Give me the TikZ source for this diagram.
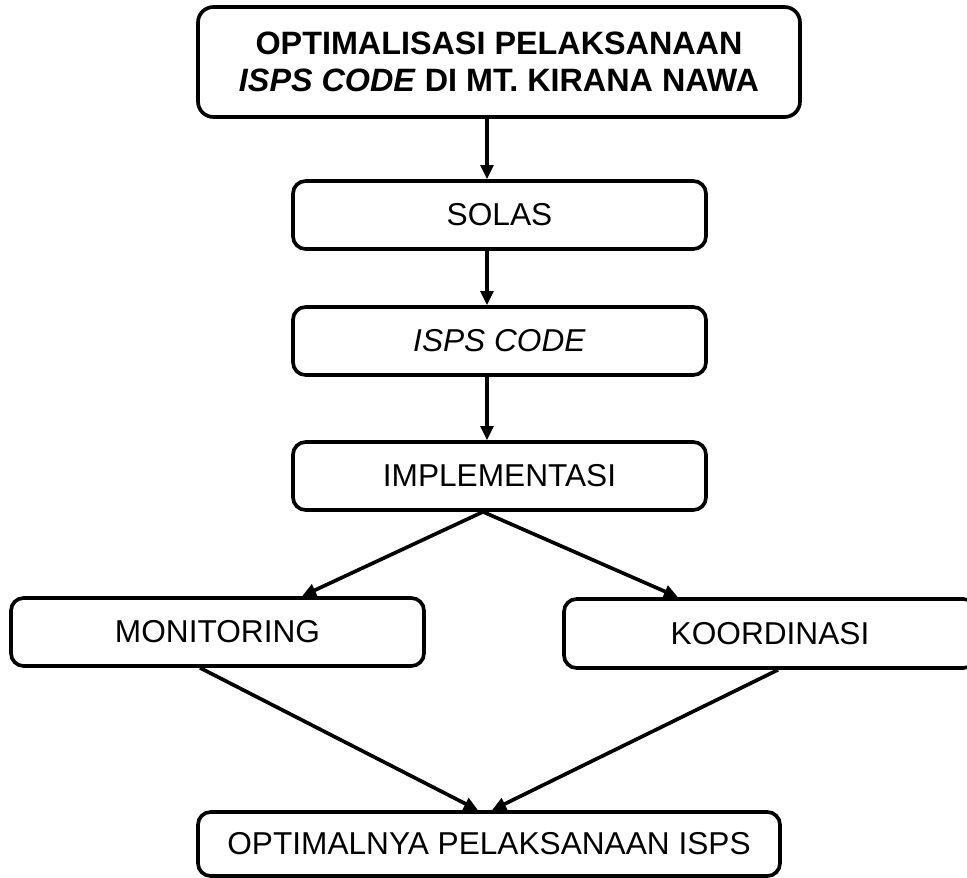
\documentclass[tikz,border=0pt]{standalone}
\usepackage{fontspec}
\setmainfont{Liberation Sans}
\usetikzlibrary{arrows.meta,positioning}

\begin{document}
\begin{tikzpicture}[x=0.025cm,y=-0.025cm,
   box/.style={draw,line width=2.6pt,rounded corners=9pt,align=center,
      font=\fontsize{22.5}{27}\selectfont,inner sep=0pt},
   link/.style={line width=2.6pt,-{Triangle[length=10pt,width=9pt]}}]
   \useasboundingbox (0,0) rectangle (967,877);
   \node[box,rounded corners=11pt,minimum width=602*0.025cm,minimum height=110*0.025cm,
         font=\bfseries\fontsize{23}{26.3}\selectfont] (top) at (499,62)
         {OPTIMALISASI PELAKSANAAN\\\textit{ISPS CODE} DI MT. KIRANA NAWA};
   \node[box,minimum width=413*0.025cm,minimum height=68*0.025cm] (solas) at (499.5,215) {SOLAS};
   \node[box,minimum width=413*0.025cm,minimum height=68*0.025cm] (isps) at (499.5,341) {\textit{ISPS CODE}};
   \node[box,minimum width=413*0.025cm,minimum height=68*0.025cm] (impl) at (499.5,476) {IMPLEMENTASI};
   \node[box,minimum width=413*0.025cm,minimum height=68*0.025cm] (mon) at (217.5,632) {MONITORING};
   \node[box,minimum width=412*0.025cm,minimum height=69*0.025cm] (koor) at (770,633.5) {KOORDINASI};
   \node[box,minimum width=582*0.025cm,minimum height=64*0.025cm] (hasil) at (489,844) {OPTIMALNYA PELAKSANAAN ISPS};
   % titik ujung panah
   \coordinate (topout) at ([xshift=-12*0.025cm]top.south);
   \coordinate (solasin) at ([xshift=-12.5*0.025cm]solas.north);
   \coordinate (solasout) at ([xshift=-12.5*0.025cm]solas.south);
   \coordinate (ispsin) at ([xshift=-12.5*0.025cm]isps.north);
   \coordinate (ispsout) at ([xshift=-12.5*0.025cm]isps.south);
   \coordinate (implin) at ([xshift=-12.5*0.025cm]impl.north);
   \coordinate (implout) at ([xshift=-16.5*0.025cm]impl.south);
   \coordinate (monin) at ([xshift=84.5*0.025cm]mon.north);
   \coordinate (monout) at ([xshift=-17.5*0.025cm]mon.south);
   \coordinate (koorin) at ([xshift=-92*0.025cm]koor.north);
   \coordinate (koorout) at ([xshift=8*0.025cm]koor.south);
   \coordinate (hasilL) at ([xshift=-11*0.025cm]hasil.north);
   \coordinate (hasilR) at ([xshift=3*0.025cm]hasil.north);
   \draw[link] (topout) -- (solasin);
   \draw[link] (solasout) -- (ispsin);
   \draw[link] (ispsout) -- (implin);
   \draw[link] (implout) -- (monin);
   \draw[link] (implout) -- (koorin);
   \draw[link] (monout) -- (hasilL);
   \draw[link] (koorout) -- (hasilR);
\end{tikzpicture}
\end{document}
